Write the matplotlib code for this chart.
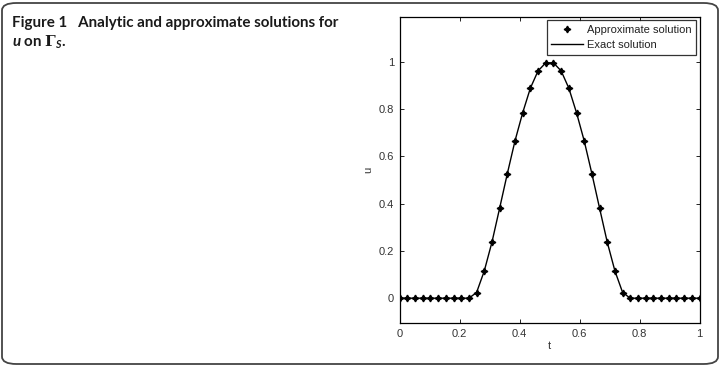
import numpy as np
import matplotlib
matplotlib.use("Agg")
import matplotlib.pyplot as plt
from matplotlib.patches import FancyBboxPatch

# Data (t on uniform grid of 40 points)
n_points = 40
t_vals = [k / (n_points - 1) for k in range(n_points)]
u_approx = [0.0] * 10 + [0.024, 0.115, 0.237, 0.381, 0.527, 0.666, 0.785, 0.889, 0.962, 0.996,
                         0.996, 0.962, 0.889, 0.785, 0.666, 0.527, 0.381, 0.237, 0.115, 0.024] + [0.0] * 10
u_exact = list(u_approx)
x_ticks = [0, 0.2, 0.4, 0.6, 0.8, 1]
x_tick_labels = ["0", "0.2", "0.4", "0.6", "0.8", "1"]
y_ticks = [0, 0.2, 0.4, 0.6, 0.8, 1]
y_tick_labels = ["0", "0.2", "0.4", "0.6", "0.8", "1"]

plt.rcParams["mathtext.fontset"] = "custom"
plt.rcParams["mathtext.it"] = "Lato:italic:bold"
plt.rcParams["mathtext.bf"] = "DejaVu Serif:bold"
plt.rcParams["mathtext.rm"] = "Lato:bold"

W, H = 721, 366
fig = plt.figure(figsize=(W / 100, H / 100), dpi=100)

# rounded outer frame
frame = FancyBboxPatch((2 / W, 2 / H), (W - 5) / W, (H - 5) / H,
                       boxstyle="round,pad=0,rounding_size=0.02",
                       transform=fig.transFigure, fill=False,
                       edgecolor="#444444", linewidth=1.3, zorder=0)
fig.patches.append(frame)

# caption
cap_kw = dict(fontsize=10.9, fontweight="bold", family="Lato", color="#1a1a1a", va="baseline")
fig.text(12 / W, 1 - 26.5 / H, "Figure 1   Analytic and approximate solutions for", **cap_kw)
fig.text(12 / W, 1 - 46.5 / H, r"$\mathit{u}$ on $\mathbf{\Gamma}_{\mathit{S}}$.", **cap_kw)

ax = fig.add_axes([399.7 / W, 1 - 323 / H, (699.5 - 399.7) / W, (323 - 17) / H])
ax.plot(t_vals, u_approx, linestyle="none", marker=(4, 1, 0), markersize=4.8,
        color="black", label="Approximate solution")
ax.plot(t_vals, u_exact, linestyle="-", linewidth=1.0, color="black", label="Exact solution")

ax.set_xlim(0, 1)
ax.set_ylim(-0.105, 1.19)
ax.set_xticks(x_ticks)
ax.set_xticklabels(x_tick_labels)
ax.set_yticks(y_ticks)
ax.set_yticklabels(y_tick_labels)
ax.tick_params(direction="in", top=True, right=True, length=3, width=0.6,
               labelsize=8, labelcolor="#333333", pad=4)
for s in ax.spines.values():
    s.set_linewidth(0.9)
ax.set_xlabel("t", fontsize=8, color="#333333", labelpad=2)
ax.set_ylabel("u", fontsize=8, color="#333333", labelpad=4)

leg = ax.legend(loc="upper right", fontsize=8.0, frameon=True, fancybox=False,
                edgecolor="black", borderaxespad=0.3, handlelength=2.9,
                handletextpad=0.35, borderpad=0.4, labelspacing=0.5)
leg.get_frame().set_linewidth(0.9)
for txt in leg.get_texts():
    txt.set_color("#222222")

for lbl in ax.get_xticklabels() + ax.get_yticklabels():
    lbl.set_family("Liberation Sans")
ax.xaxis.label.set_family("Liberation Sans")
ax.yaxis.label.set_family("Liberation Sans")
for txt in leg.get_texts():
    txt.set_family("Liberation Sans")

fig.savefig("out.png", dpi=100)
